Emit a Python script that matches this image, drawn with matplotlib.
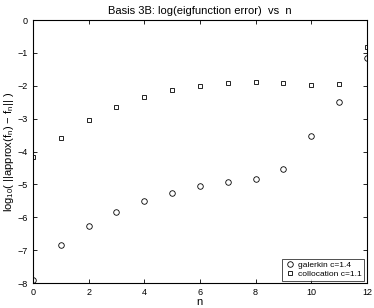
import matplotlib
matplotlib.use('Agg')
import matplotlib.pyplot as plt

plt.rcParams['font.family'] = ['Liberation Sans', 'DejaVu Sans']
plt.rcParams['mathtext.fontset'] = 'custom'
plt.rcParams['mathtext.rm'] = 'Liberation Sans'
plt.rcParams['mathtext.it'] = 'Liberation Sans'

n = [0, 1, 2, 3, 4, 5, 6, 7, 8, 9, 10, 11, 12]
galerkin = [-7.90, -6.85, -6.26, -5.83, -5.50, -5.25, -5.06, -4.92, -4.83, -4.52, -3.52, -2.49, -1.17]
collocation = [-4.18, -3.58, -3.04, -2.65, -2.34, -2.13, -2.00, -1.92, -1.90, -1.92, -1.98, -1.95, -0.81]

fig = plt.figure(figsize=(3.74, 3.08), dpi=100)
ax = fig.add_axes([0.088, 0.081, 0.893, 0.854])

ax.plot(n, galerkin, 'o', mfc='none', mec='black', ms=4, mew=0.6, label='galerkin c=1.4')
ax.plot(n, collocation, 's', mfc='none', mec='black', ms=3.5, mew=0.6, label='collocation c=1.1')

ax.set_xlim(0, 12)
ax.set_ylim(-8, 0)
ax.set_xticks(range(0, 13, 2))
ax.set_yticks(range(-8, 1))
ax.tick_params(direction='in', top=True, right=True, labelsize=6.5, length=3, width=0.6)
for s in ax.spines.values():
    s.set_linewidth(0.8)

ax.set_title('Basis 3B: log(eigfunction error)  vs  n', fontsize=8, pad=4)
ax.set_xlabel('n', fontsize=8, labelpad=0)
ax.set_ylabel(r'log$_{10}$( ||approx(f$_n$) $-$ f$_n$|| )', fontsize=8, labelpad=1)

leg = ax.legend(loc='lower right', fontsize=6, frameon=True, fancybox=False,
                edgecolor='black', borderpad=0.3, handletextpad=0.4,
                labelspacing=0.1, borderaxespad=0.3, handlelength=1.2)
leg.get_frame().set_linewidth(0.6)

fig.savefig('out.png', dpi=100)
